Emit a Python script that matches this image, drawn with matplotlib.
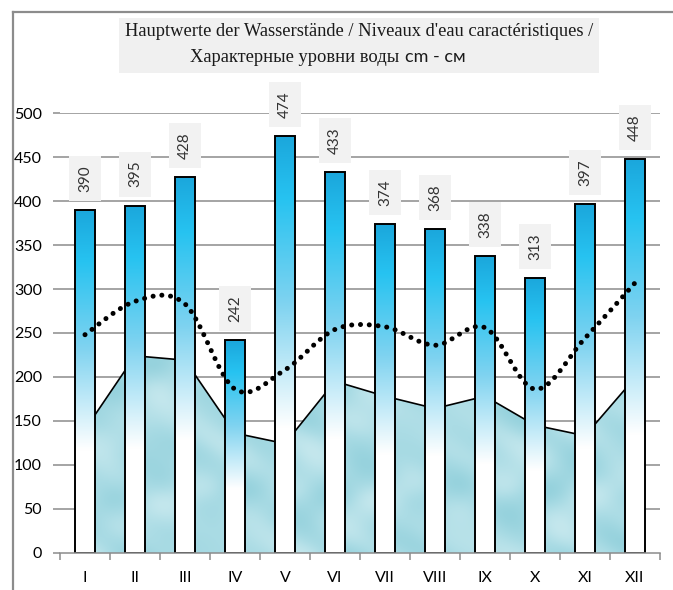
import numpy as np
import matplotlib
matplotlib.use("Agg")
import matplotlib.pyplot as plt
from matplotlib.colors import LinearSegmentedColormap
from matplotlib.path import Path
from matplotlib.patches import PathPatch, Rectangle
from matplotlib.lines import Line2D

months = ["I", "II", "III", "IV", "V", "VI", "VII", "VIII", "IX", "X", "XI", "XII"]
high = [390, 395, 428, 242, 474, 433, 374, 368, 338, 313, 397, 448]
low = [140, 224, 219, 136, 124, 195, 178, 164, 178, 145, 133, 199]
mean = [248, 286, 283, 186, 208, 254, 257, 236, 256, 186, 244, 307]

W, H = 673, 590
fig = plt.figure(figsize=(W / 100, H / 100), dpi=100)
ax = fig.add_axes([60 / W, (H - 552.6) / H, 600 / W, 439.3 / H])

sans = ["Lato", "DejaVu Sans"]
x = np.arange(len(months))

# grid
for v in range(50, 501, 50):
    ax.axhline(v, color="#8c8c8c", lw=1.1, zorder=0.5)

# low water area with a soft water texture
poly = ax.fill_between(x, low, 0, color="#a9dce5", lw=0, zorder=1)
gx, gy = np.meshgrid(np.linspace(0, 1, 300), np.linspace(0, 1, 300))
tex = (np.sin(gx * 37 + np.sin(gy * 23) * 2) + np.sin(gy * 29 + np.cos(gx * 17) * 2)
       + 0.6 * np.sin((gx + gy) * 51))
water = LinearSegmentedColormap.from_list("w", ["#96d2dd", "#abdce5", "#c4e7ed"])
im = ax.imshow(tex, extent=[-0.5, 11.5, 0, 500], aspect="auto", cmap=water,
               origin="lower", zorder=1.05, interpolation="bilinear")
im.set_clip_path(poly.get_paths()[0], transform=ax.transData)
ax.plot(x, low, color="black", lw=1.2, zorder=1.5)

# gradient bars
bar_cmap = LinearSegmentedColormap.from_list(
    "b", [(0, "#ffffff"), (0.3, "#ffffff"), (0.6, "#7fd3f0"), (0.85, "#27c3f1"), (1, "#1ba7dc")])
grad = np.linspace(0, 1, 256).reshape(-1, 1)
bars = ax.bar(x, high, width=0.4, facecolor="none", edgecolor="black", lw=1.4, zorder=2.5)
for b in bars:
    gi = ax.imshow(grad, extent=[b.get_x(), b.get_x() + b.get_width(), 0, b.get_height()],
                   aspect="auto", cmap=bar_cmap, origin="lower", zorder=2.2)
    gi.set_clip_path(b)
ax.set_xlim(-0.5, 11.5)
ax.set_ylim(0, 500)

# smoothed dotted mean line (bezier through the points)
pts = np.column_stack([x, mean]).astype(float)
ext = np.vstack([pts[0], pts, pts[-1]])
verts = [tuple(pts[0])]
codes = [Path.MOVETO]
for i in range(len(pts) - 1):
    p0, p1, p2, p3 = ext[i], ext[i + 1], ext[i + 2], ext[i + 3]
    c1 = p1 + (p2 - p0) / 6
    c2 = p2 - (p3 - p1) / 6
    verts += [tuple(c1), tuple(c2), tuple(p2)]
    codes += [Path.CURVE4] * 3
curve = PathPatch(Path(verts, codes), facecolor="none", edgecolor="black", lw=3.6,
                  linestyle=(0, (0.01, 1.75)), capstyle="round", zorder=3)
ax.add_patch(curve)

# value labels
for xi, v in zip(x, high):
    ax.annotate(str(v), (xi, v), xytext=(0, 13), textcoords="offset points",
                rotation=90, ha="center", va="bottom", fontsize=11, family=sans,
                color="#333333", zorder=4, annotation_clip=False,
                bbox=dict(boxstyle="square,pad=0.6", fc="#f2f2f2", ec="none"))

# axes styling
for s in ["top", "right", "left"]:
    ax.spines[s].set_visible(False)
ax.spines["bottom"].set_color("#8c8c8c")
ax.spines["bottom"].set_linewidth(1.1)
ax.set_yticks(range(0, 501, 50))
ax.set_yticklabels([str(v) for v in range(0, 501, 50)], family=sans, fontsize=11.5)
ax.tick_params(axis="y", length=5, color="#8c8c8c", width=1.1, pad=8)
ax.set_xticks(x)
ax.set_xticklabels(months, family=sans, fontsize=11.5)
ax.tick_params(axis="x", length=0, pad=13)
ax.set_xticks(np.arange(-0.5, 12, 1), minor=True)
ax.tick_params(axis="x", which="minor", length=5, color="#8c8c8c", width=1.1)
ax.set_facecolor("none")

# frame lines around chart area
def fx(px):
    return px / W
def fy(py):
    return 1 - py / H
fig.add_artist(Line2D([fx(12.5), fx(12.5)], [fy(12), fy(H + 5)], color="#8c8c8c", lw=1.6))
fig.add_artist(Line2D([fx(12.5), fx(W + 5)], [fy(12), fy(12)], color="#8c8c8c", lw=1.6))

# title box
fig.add_artist(Rectangle((fx(119), fy(73)), (599 - 119) / W, (73 - 18) / H,
                         facecolor="#f0f0f0", edgecolor="none", transform=fig.transFigure))
fig.text(fx(359), fy(32), "Hauptwerte der Wasserstände / Niveaux d'eau caractéristiques /",
         ha="center", va="center", family="Liberation Serif", fontsize=13.3, color="#1a1a1a")
t1 = fig.text(fx(404), fy(57), "Характерные уровни воды ", ha="right", va="center",
              family="Liberation Serif", fontsize=13.3, color="#1a1a1a")
fig.canvas.draw()
bb = t1.get_window_extent(fig.canvas.get_renderer())
fig.text(bb.x1 / W + 1 / W, fy(57), "cm - см", ha="left", va="center",
         family=sans, fontsize=13, color="#1a1a1a")

fig.savefig("out.png", dpi=100)
